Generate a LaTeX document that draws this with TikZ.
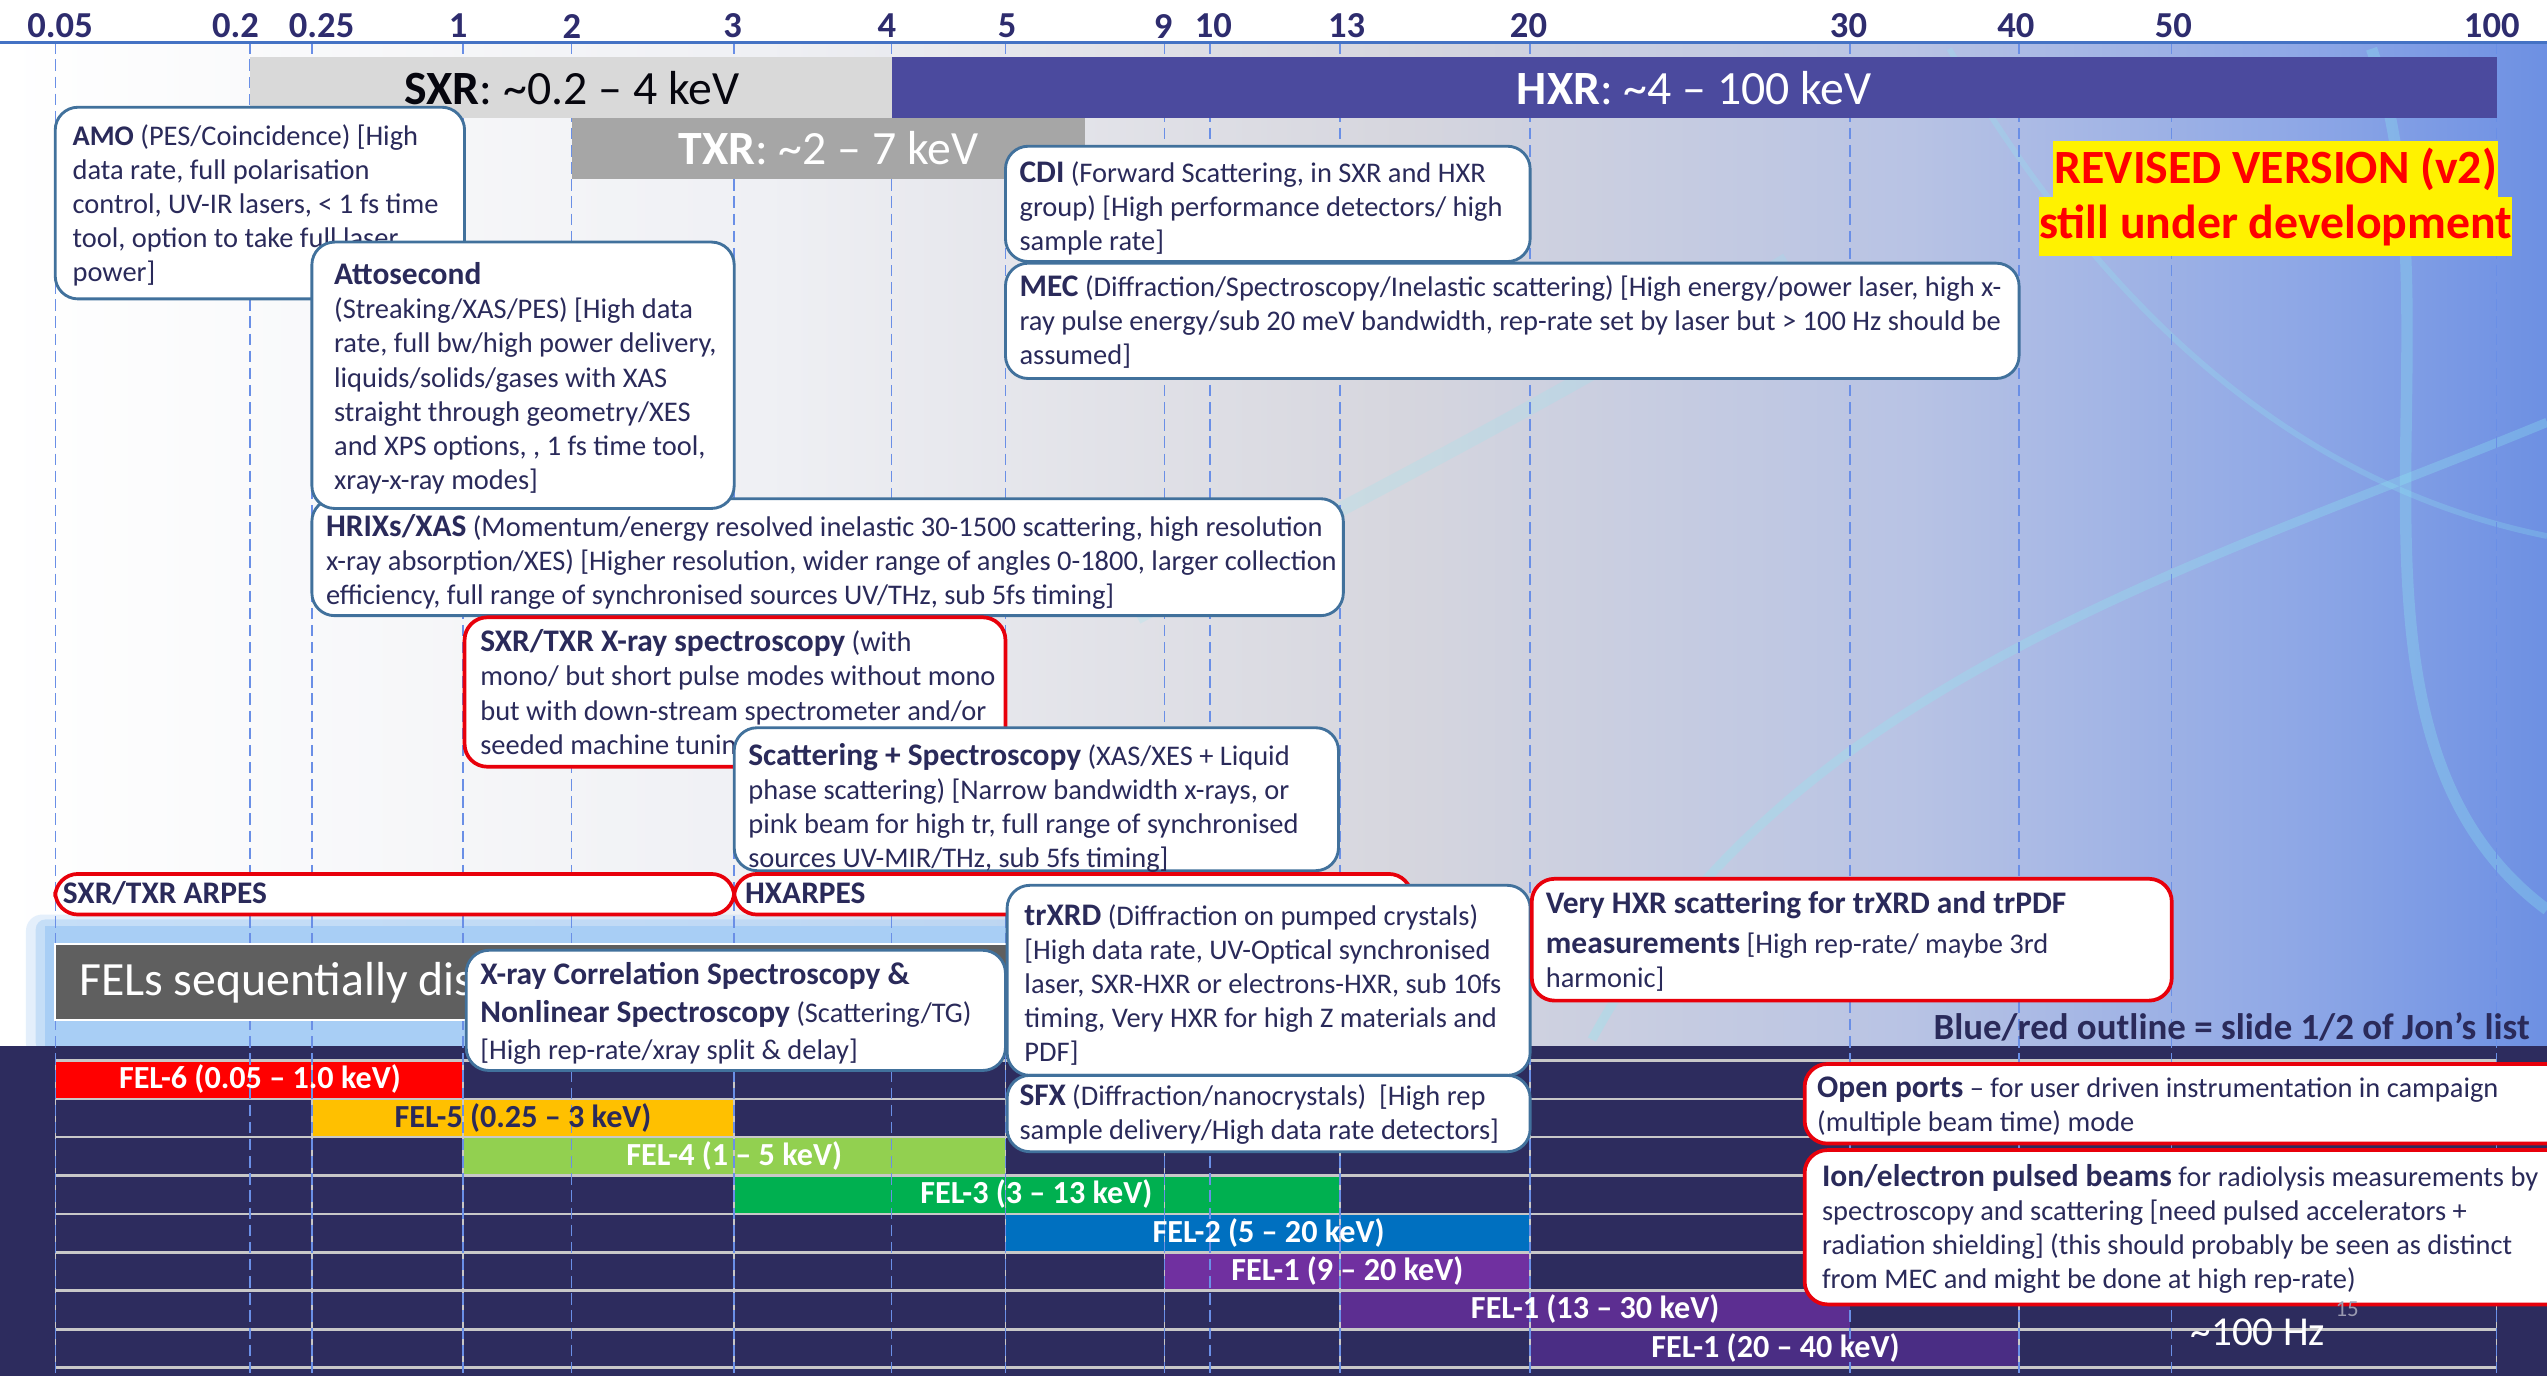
\documentclass[tikz,border=0pt]{standalone}
\usepackage{fontspec}
\setmainfont{Carlito}

\definecolor{ink}{HTML}{2A2A5A}
\definecolor{axisink}{HTML}{2E2C6E}
\definecolor{axisline}{HTML}{4472C4}
\definecolor{tickdash}{HTML}{6A8FE6}
\definecolor{boxblue}{HTML}{41719C}
\definecolor{boxred}{HTML}{E8000B}
\definecolor{sxrgray}{HTML}{D9D9D9}
\definecolor{txrgray}{HTML}{A6A6A6}
\definecolor{hxrblue}{HTML}{4B4A9E}
\definecolor{panel}{HTML}{2D2C5E}
\definecolor{gridgray}{HTML}{C8C8C8}
\definecolor{felbox}{HTML}{5F5F5F}
\definecolor{glow}{HTML}{A8CEF5}
\definecolor{felsix}{HTML}{FF0000}
\definecolor{felfive}{HTML}{FFC000}
\definecolor{felfour}{HTML}{92D050}
\definecolor{felthree}{HTML}{00B050}
\definecolor{feltwo}{HTML}{0070C0}
\definecolor{feloneA}{HTML}{7030A0}
\definecolor{feloneB}{HTML}{5C2E91}
\definecolor{feloneC}{HTML}{4A2D84}
\definecolor{bgA}{HTML}{EFF0F4}
\definecolor{bgB}{HTML}{D6D6DE}
\definecolor{bgC}{HTML}{B8C3E4}
\definecolor{bgD}{HTML}{8FA8E6}
\definecolor{bgE}{HTML}{6D90E3}
\definecolor{swirl}{HTML}{8EEAF2}
\definecolor{slideno}{HTML}{9A9AB0}

\pgfdeclarehorizontalshading{slidebg}{100bp}{color(0bp)=(white); color(25bp)=(white);
  color(40bp)=(bgA); color(52.5bp)=(bgB); color(62.5bp)=(bgC); color(70bp)=(bgD);
  color(75bp)=(bgE); color(100bp)=(bgE)}

\newcommand{\boxfont}{\fontsize{4.98}{5.97}\selectfont}
\newcommand{\axisfont}{\fontsize{6.4}{7}\selectfont\bfseries}
\newcommand{\bigfont}{\fontsize{8.36}{9}\selectfont}
\newcommand{\felfont}{\fontsize{5.63}{6}\selectfont\bfseries}
\newcommand{\hd}[1]{{\fontsize{5.5}{5.97}\selectfont\bfseries #1}}

\tikzset{
  bluebox/.style={draw=boxblue, line width=0.5pt, fill=white, rounded corners=0.14cm},
  redbox/.style={draw=boxred, line width=0.65pt, fill=white, rounded corners=0.14cm},
  boxtext/.style={anchor=north west, align=left, inner sep=0pt, text=ink, font=\boxfont},
  ticklabel/.style={font=\axisfont, text=axisink, inner sep=0pt},
  tickline/.style={draw=tickdash, line width=0.25pt, dash pattern=on 2pt off 1pt},
  bigtxt/.style={font=\bigfont, inner sep=0pt},
  fellabel/.style={font=\felfont, text=white, inner sep=0pt},
}

\begin{document}
\begin{tikzpicture}[x=0.01cm,y=-0.01cm]
\useasboundingbox (0,0) rectangle (1568,847);
\clip (0,0) rectangle (1568,847);

% slide background
\fill[white] (0,0) rectangle (1568,26);
\shade[shading=slidebg] (0,26) rectangle (1568,645);
\draw[swirl, opacity=.3, line width=1.6pt] (980,640) .. controls (1100,420) and (1350,350) .. (1568,260);
\draw[swirl, opacity=.25, line width=1pt] (1200,30) .. controls (1300,200) and (1420,300) .. (1568,330);
\draw[swirl, opacity=.3, line width=2pt] (1460,30) .. controls (1520,200) and (1420,450) .. (1568,560);
\draw[swirl, opacity=.2, line width=2.5pt] (700,380) .. controls (850,300) and (950,250) .. (1100,160);
\fill[glow, opacity=.3, rounded corners=0.1cm] (16,563) rectangle (640,652);
\fill[glow, opacity=.5, rounded corners=0.06cm] (22,566) rectangle (632,648);
\fill[glow] (28,570) rectangle (626,644);
\fill[panel] (0,644) rectangle (1568,847);

% FEL rows
\fill[felsix] (34,653) rectangle (285,676.5);
\fill[felfive] (192,676.5) rectangle (452,700);
\fill[felfour] (285,700) rectangle (619,723.8);
\fill[felthree] (452,723.8) rectangle (825,747.3);
\fill[feltwo] (619,747.3) rectangle (942,771);
\fill[feloneA] (717,771) rectangle (942,794.6);
\fill[feloneB] (825,794.6) rectangle (1139,818.3);
\fill[feloneC] (942,818.3) rectangle (1243,842);
\foreach \yy in {653,676.5,700,723.8,747.3,771,794.6,818.3,842}
  \draw[gridgray, line width=0.45pt] (34,\yy) -- (1537,\yy);
\foreach \xx in {34,192,285,452,619,717,825,942,1243,1537}
  \draw[gridgray, line width=0.25pt] (\xx,653) -- (\xx,842);

% energy axis
\foreach \xx in {34,154,192,285,352,452,549,619,717,745,825,942,1139,1243,1337,1537}
  \draw[tickline] (\xx,26) -- (\xx,847);
\draw[axisline, line width=0.5pt] (0,26) -- (1568,26);
\foreach \lab/\xx [count=\i] in {0.05/37,0.2/145,0.25/198,1/282,2/352,3/451,4/546,5/620,9/716,10/747,13/829,20/941,30/1138,40/1241,50/1338,100/1534}
  \node[ticklabel] (tick\i) at (\xx,16) {\lab};

% beamline ranges
\fill[sxrgray] (154,35) rectangle (549,72.5);
\fill[hxrblue] (549,35) rectangle (1537,72.5);
\fill[txrgray] (352,72.5) rectangle (668,110);
\node[bigtxt, text=black!85!ink] (sxr) at (352,54) {\textbf{SXR}: \textasciitilde0.2 – 4 keV};
\node[bigtxt, text=white] (hxr) at (1043,54) {\textbf{HXR}: \textasciitilde4 – 100 keV};
\node[bigtxt, text=white] (txr) at (510,91) {\textbf{TXR}: \textasciitilde2 – 7 keV};

\fill[yellow] (1264,87) rectangle (1538,121);
\fill[yellow] (1255.5,121) rectangle (1546.5,157.5);
\node[bigtxt, font=\bigfont\bfseries, text=red] (rev) at (1401,104) {REVISED VERSION (v2)};
\node[bigtxt, font=\bigfont\bfseries, text=red] (dev) at (1401,139) {still under development};

% instruments
\draw[bluebox] (34,66) rectangle (286,184);
\node[boxtext] (amo) at (44,76) {\textbf{AMO} (PES/Coincidence) [High\\
data rate, full polarisation\\
control, UV-IR lasers, < 1 fs time\\
tool, option to take full laser\\
power]};

\draw[bluebox] (619,90) rectangle (942,161);
\node[boxtext] (cdi) at (627,99) {\hd{CDI} (Forward Scattering, in SXR and HXR\\
group) [High performance detectors/ high\\
sample rate]};

\draw[bluebox] (619,162) rectangle (1243,233);
\node[boxtext] (mec) at (627,169) {\hd{MEC} (Diffraction/Spectroscopy/Inelastic scattering) [High energy/power laser, high x-\\
ray pulse energy/sub 20 meV bandwidth, rep-rate set by laser but > 100 Hz should be\\
assumed]};

\draw[bluebox] (192,307) rectangle (827,379);
\node[boxtext] (hrixs) at (200,316) {\hd{HRIXs/XAS} (Momentum/energy resolved inelastic 30-1500 scattering, high resolution\\
x-ray absorption/XES) [Higher resolution, wider range of angles 0-1800, larger collection\\
efficiency, full range of synchronised sources UV/THz, sub 5fs timing]};

\draw[bluebox] (192,149) rectangle (452,313);
\node[boxtext] (atto) at (205,161) {\hd{Attosecond}\\
(Streaking/XAS/PES) [High data\\
rate, full bw/high power delivery,\\
liquids/solids/gases with XAS\\
straight through geometry/XES\\
and XPS options, , 1 fs time tool,\\
xray-x-ray modes]};

\draw[redbox] (286,380) rectangle (619,472);
\node[boxtext] (xspec) at (295,387) {\hd{SXR/TXR X-ray spectroscopy} (with\\
mono/ but short pulse modes without mono\\
but with down-stream spectrometer and/or\\
seeded machine tuning)};

\draw[bluebox] (452,448) rectangle (824,536);
\node[boxtext] (scat) at (460,457) {\hd{Scattering + Spectroscopy} (XAS/XES + Liquid\\
phase scattering) [Narrow bandwidth x-rays, or\\
pink beam for high tr, full range of synchronised\\
sources UV-MIR/THz, sub 5fs timing]};

\draw[redbox] (34,538) rectangle (452,563);
\node[boxtext, anchor=west] (arpes) at (38,550) {\hd{SXR/TXR ARPES}};
\draw[redbox] (452,538) rectangle (869,563);
\node[boxtext, anchor=west] (hxarpes) at (458,550) {\hd{HXARPES}};

\draw[white, line width=0.4pt, fill=felbox] (34,581) rectangle (620,628);
\begin{scope}
\clip (34,581) rectangle (288,628);
\node[bigtxt, anchor=west, text=white] (fels) at (48,605) {FELs sequentially dis};
\end{scope}

\draw[bluebox] (287,585) rectangle (619,659);
\node[boxtext, font=\fontsize{4.98}{6.55}\selectfont] (xcs) at (295,592) {\hd{X-ray Correlation Spectroscopy \&}\\
\hd{Nonlinear Spectroscopy} (Scattering/TG)\\
{[}High rep-rate/xray split \& delay]};

\draw[bluebox] (620,545) rectangle (942,662);
\node[boxtext] (trxrd) at (630,556) {\hd{trXRD} (Diffraction on pumped crystals)\\
{[}High data rate, UV-Optical synchronised\\
laser, SXR-HXR or electrons-HXR, sub 10fs\\
timing, Very HXR for high Z materials and\\
PDF]};

\draw[bluebox] (620,662) rectangle (942,709);
\node[boxtext] (sfx) at (627,667) {\hd{SFX} (Diffraction/nanocrystals)\ \ [High rep\\
sample delivery/High data rate detectors]};

\draw[redbox] (943,541) rectangle (1337,616);
\node[boxtext] (vhxr) at (951,548) {\hd{Very HXR scattering for trXRD and trPDF}\\[1.1pt]
\hd{measurements} [High rep-rate/ maybe 3rd\\
harmonic]};

\node[inner sep=0pt, anchor=east, text=ink, font=\fontsize{6.46}{7}\selectfont\bfseries] (jon) at (1558,632) {Blue/red outline = slide 1/2 of Jon’s list};

\draw[redbox] (1111,655) rectangle (1590,704);
\node[boxtext] (open) at (1118,662) {\hd{Open ports} – for user driven instrumentation in campaign\\
(multiple beam time) mode};

\draw[redbox] (1111,708) rectangle (1590,803);
\node[boxtext] (ion) at (1121,716) {\hd{Ion/electron pulsed beams} for radiolysis measurements by\\
spectroscopy and scattering [need pulsed accelerators +\\
radiation shielding] (this should probably be seen as distinct\\
from MEC and might be done at high rep-rate)};

% FEL labels
\node[fellabel] (fel6) at (160,664) {FEL-6 (0.05 – 1.0 keV)};
\node[fellabel, text=ink] (fel5) at (322,688) {FEL-5 (0.25 – 3 keV)};
\node[fellabel] (fel4) at (452,711.5) {FEL-4 (1 – 5 keV)};
\node[fellabel] (fel3) at (638,735) {FEL-3 (3 – 13 keV)};
\node[fellabel] (fel2) at (781,759) {FEL-2 (5 – 20 keV)};
\node[fellabel] (fel1a) at (829.5,782.5) {FEL-1 (9 – 20 keV)};
\node[fellabel] (fel1b) at (982,806) {FEL-1 (13 – 30 keV)};
\node[fellabel] (fel1c) at (1093,830) {FEL-1 (20 – 40 keV)};

\node[inner sep=0pt, text=white, font=\fontsize{7.2}{8}\selectfont] (rate) at (1390,820) {\textasciitilde100 Hz};
\node[inner sep=0pt, text=slideno, font=\fontsize{4}{5}\selectfont] (pageno) at (1445,806) {15};
\end{tikzpicture}
\end{document}
